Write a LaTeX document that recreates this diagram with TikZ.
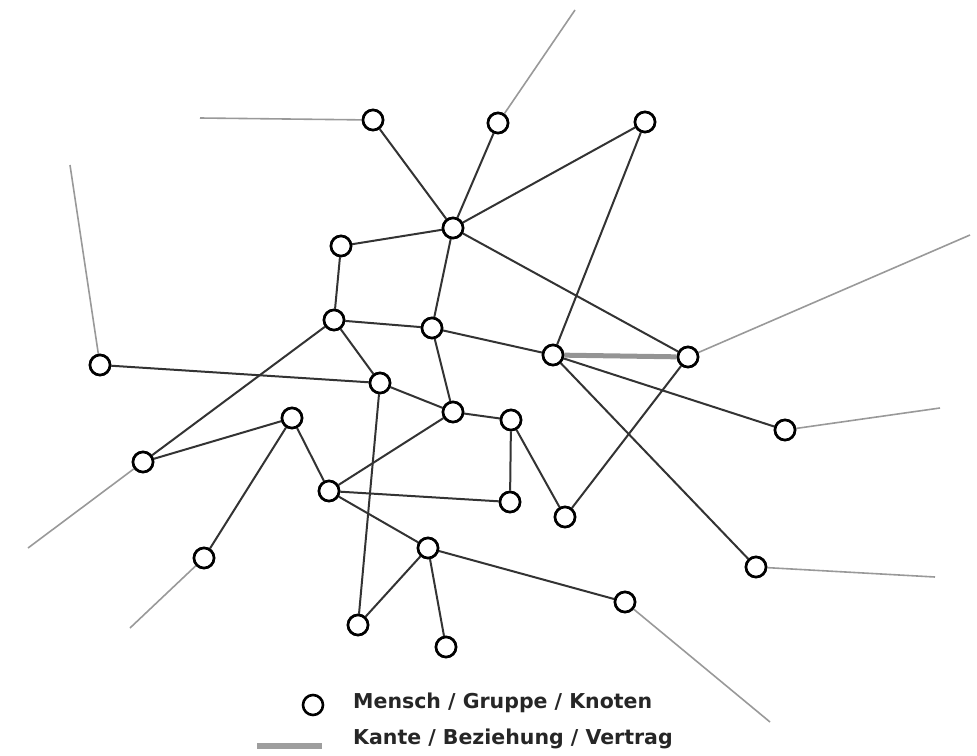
\documentclass[tikz,border=0pt]{standalone}
\usepackage{fontspec}
\setmainfont{DejaVu Sans}
\begin{document}
\begin{tikzpicture}[x=1pt,y=-1pt,
  knot/.style={circle,draw=black,line width=2.6pt,fill=white,minimum size=20pt,inner sep=0pt},
  link/.style={draw=black!80,line width=2pt},
  loose/.style={draw=black!40,line width=1.6pt},
  bond/.style={draw=black!42,line width=5pt},
  legendtext/.style={anchor=base west,inner sep=0pt,font=\fontsize{20.5}{24}\selectfont\bfseries,text=black!85}]
\useasboundingbox (0,0) rectangle (977,755);

% persons / groups
\node[knot] (n1)  at (373,120) {};
\node[knot] (n2)  at (498,123) {};
\node[knot] (n3)  at (645,122) {};
\node[knot] (n4)  at (453,228) {};
\node[knot] (n5)  at (341,246) {};
\node[knot] (n6)  at (334,320) {};
\node[knot] (n7)  at (432,328) {};
\node[knot] (n8)  at (553,355) {};
\node[knot] (n9)  at (688,357) {};
\node[knot] (n10) at (100,365) {};
\node[knot] (n11) at (380,383) {};
\node[knot] (n12) at (453,412) {};
\node[knot] (n13) at (511,420) {};
\node[knot] (n14) at (292,418) {};
\node[knot] (n15) at (785,430) {};
\node[knot] (n16) at (143,462) {};
\node[knot] (n17) at (329,491) {};
\node[knot] (n18) at (510,502) {};
\node[knot] (n19) at (565,517) {};
\node[knot] (n20) at (428,548) {};
\node[knot] (n21) at (204,558) {};
\node[knot] (n22) at (756,567) {};
\node[knot] (n23) at (625,602) {};
\node[knot] (n24) at (358,625) {};
\node[knot] (n25) at (446,647) {};

% open ends leading out of the network
\coordinate (o1)  at (200,118);
\coordinate (o2)  at (575,10);
\coordinate (o9)  at (970,235);
\coordinate (o10) at (70,165);
\coordinate (o15) at (940,408);
\coordinate (o16) at (28,548);
\coordinate (o21) at (130,628);
\coordinate (o22) at (935,577);
\coordinate (o23) at (770,722);

\foreach \a/\b in {n1/o1,n2/o2,n9/o9,n10/o10,n15/o15,n16/o16,n21/o21,n22/o22,n23/o23}
  \draw[loose] (\a) -- (\b);
\foreach \a/\b in {n1/n4,n2/n4,n3/n4,n3/n8,n4/n5,n4/n7,n4/n9,n5/n6,n6/n7,n6/n11,n6/n16,
                   n7/n8,n7/n12,n8/n15,n8/n22,n9/n19,n10/n11,n11/n12,n11/n24,n12/n17,
                   n12/n13,n13/n18,n13/n19,n14/n16,n14/n17,n14/n21,n17/n18,n17/n20,
                   n20/n24,n20/n25,n20/n23}
  \draw[link] (\a) -- (\b);
\draw[bond] (n8) -- (n9);

% circles on top of the edges
\foreach \n in {n1,n2,n3,n4,n5,n6,n7,n8,n9,n10,n11,n12,n13,n14,n15,n16,n17,n18,n19,n20,n21,n22,n23,n24,n25}
  \node[knot] at (\n.center) {};

% legend
\node[knot] (lk) at (313,705) {};
\coordinate (la) at (257,746);
\coordinate (lb) at (322,746);
\draw[bond,draw=black!38,line width=6pt] (la) -- (lb);
\node[legendtext] (lt1) at (353,708) {Mensch / Gruppe / Knoten};
\node[legendtext] (lt2) at (353,744) {Kante / Beziehung / Vertrag};
\end{tikzpicture}
\end{document}
